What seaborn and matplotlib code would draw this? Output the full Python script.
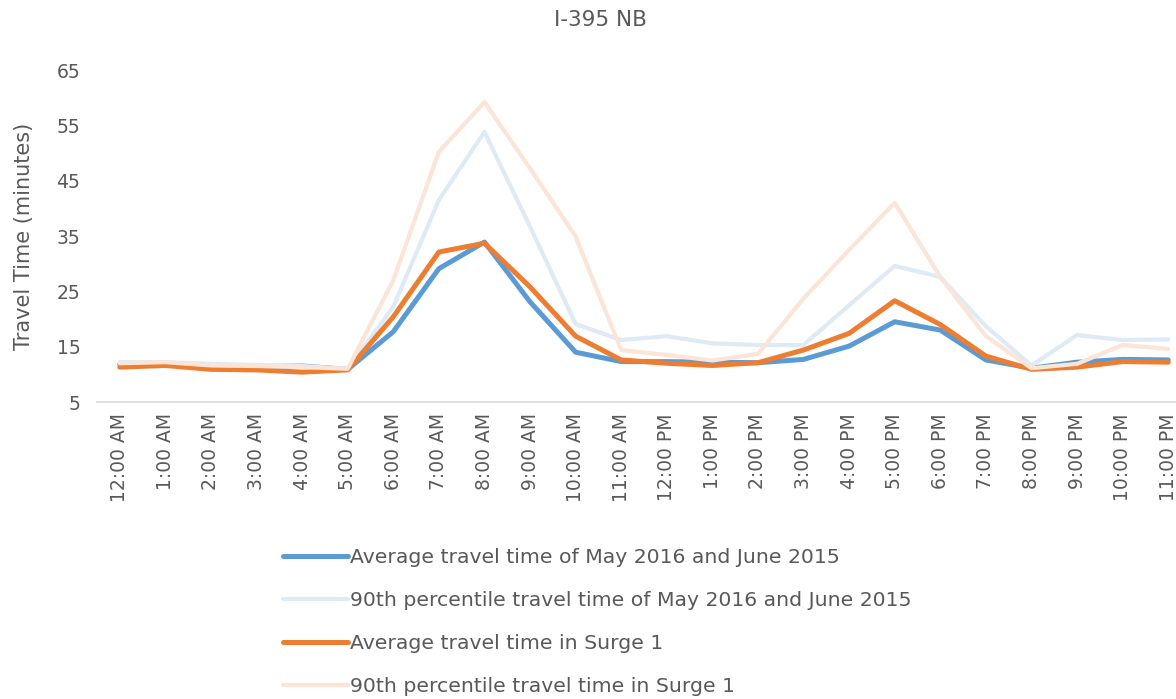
import numpy as np
import pandas as pd
import matplotlib
matplotlib.use('Agg')
import matplotlib.pyplot as plt
import seaborn as sns

# data
hours = ['12:00 AM', '1:00 AM', '2:00 AM', '3:00 AM', '4:00 AM', '5:00 AM',
         '6:00 AM', '7:00 AM', '8:00 AM', '9:00 AM', '10:00 AM', '11:00 AM',
         '12:00 PM', '1:00 PM', '2:00 PM', '3:00 PM', '4:00 PM', '5:00 PM',
         '6:00 PM', '7:00 PM', '8:00 PM', '9:00 PM', '10:00 PM', '11:00 PM']

avg_base = [11.8, 11.9, 11.4, 11.4, 11.5, 10.9, 17.7, 29.1, 33.9, 23.1, 14.0, 12.3,
            12.3, 12.2, 12.1, 12.7, 15.1, 19.5, 18.0, 12.6, 11.1, 12.2, 12.7, 12.6]
p90_base = [12.2, 12.2, 11.9, 11.7, 11.5, 11.0, 22.2, 41.5, 53.8, 36.7, 19.1, 16.2,
            16.9, 15.6, 15.3, 15.3, 22.5, 29.6, 27.6, 18.7, 11.6, 17.1, 16.2, 16.3]
avg_surge = [11.3, 11.6, 10.9, 10.8, 10.4, 10.8, 20.4, 32.1, 33.7, 25.8, 16.9, 12.6,
             12.0, 11.6, 12.1, 14.4, 17.4, 23.3, 19.0, 13.3, 10.9, 11.3, 12.3, 12.2]
p90_surge = [12.0, 12.2, 11.6, 11.5, 11.3, 11.0, 27.0, 50.2, 59.2, 47.2, 34.9, 14.4,
             13.5, 12.5, 13.7, 23.7, 32.5, 41.0, 27.6, 16.9, 11.1, 11.9, 15.3, 14.6]

series = [
    ('Average travel time of May 2016 and June 2015', avg_base, '#5B9BD5', 3.6),
    ('90th percentile travel time of May 2016 and June 2015', p90_base, '#DEEBF7', 3.0),
    ('Average travel time in Surge 1', avg_surge, '#ED7D31', 3.6),
    ('90th percentile travel time in Surge 1', p90_surge, '#FBE5D6', 3.0),
]

sns.set_style('white')
plt.rcParams['font.family'] = ['DejaVu Sans']

W, H = 1176, 699
fig = plt.figure(figsize=(W / 100, H / 100), dpi=100)
# plot area runs past the right edge, as in the cropped reference
ax = fig.add_axes([97 / W, 1 - 402 / H, (1191 - 97) / W, (402 - 70) / H])

x = np.arange(len(hours))
for name, vals, color, lw in series:
    df = pd.DataFrame({'hour': x, 'minutes': vals})
    sns.lineplot(data=df, x='hour', y='minutes', color=color, linewidth=lw,
                 label=name, ax=ax, sort=False, legend=False)

ax.set_xlim(-0.5, 23.5)
ax.set_ylim(5, 65)
ax.set_yticks(np.arange(5, 66, 10))
ax.set_xticks(x)
ax.set_xticklabels(hours, rotation=90)
ax.tick_params(axis='both', length=0, colors='#595959', labelsize=13.5, pad=8)
ax.tick_params(axis='y', pad=12)
ax.set_xlabel('')
ax.set_ylabel('Travel Time (minutes)', fontsize=15, color='#595959', labelpad=16)
for side in ['top', 'right', 'left']:
    ax.spines[side].set_visible(False)
ax.spines['bottom'].set_color('#D9D9D9')
ax.spines['bottom'].set_linewidth(1.2)

fig.text(600 / W, 1 - 20 / H, 'I-395 NB', ha='center', va='center',
         fontsize=15.5, color='#595959')

handles, labels = ax.get_legend_handles_labels()
fig.legend(handles, labels, loc='upper left', bbox_to_anchor=(283 / W, 1 - 548 / H),
           frameon=False, borderpad=0, borderaxespad=0, handlelength=3.2,
           handletextpad=0.1, labelspacing=1.17, fontsize=14.7, labelcolor='#595959')

fig.savefig('out.png', dpi=100)
